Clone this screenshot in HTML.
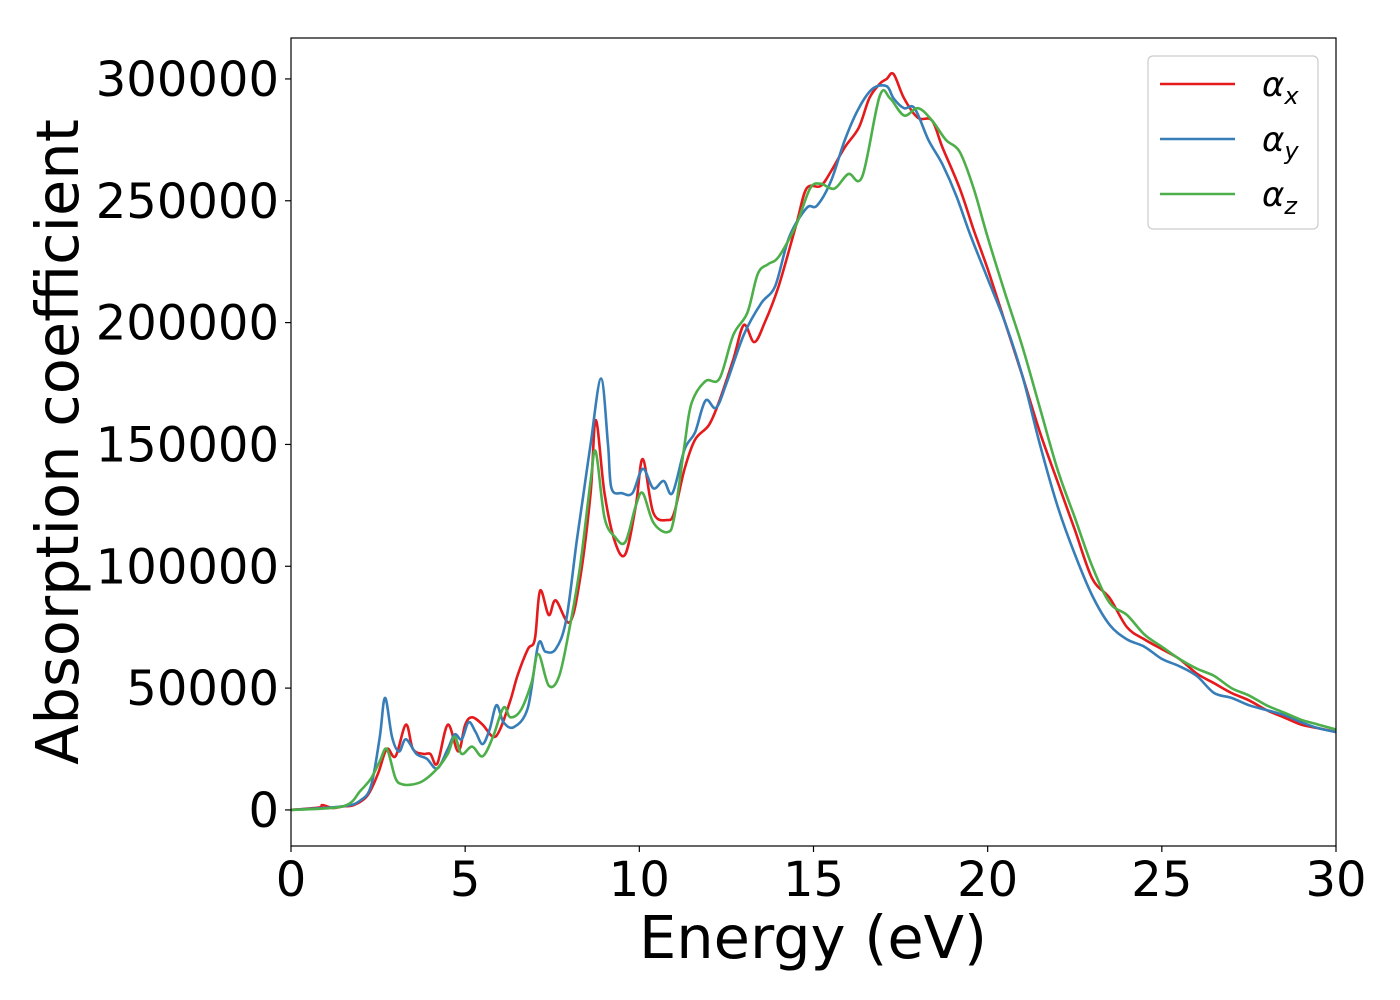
<!DOCTYPE html>
<html><head><meta charset="utf-8"><style>
html,body{margin:0;padding:0;background:#fff;}
svg{display:block;font-family:"DejaVu Sans","Liberation Sans",sans-serif;}
</style></head><body>
<svg id="chart" width="1400" height="1000" viewBox="0 0 1400 1000">
<g id="plot"></g>
<g id="axes"></g>
</svg>
<script>
const xTicks=[0,5,10,15,20,25,30];
const yTicks=[0,50000,100000,150000,200000,250000,300000];
const seriesNames=["x","y","z"];
const ex=[0,0.8,0.9,1.2,1.5,1.8,2.2,2.5,2.75,3.0,3.3,3.5,3.8,4.0,4.2,4.5,4.8,5.0,5.2,5.5,5.8,6.0,6.3,6.5,6.8,7.0,7.15,7.4,7.6,8.0,8.3,8.6,8.75,9.0,9.3,9.6,9.9,10.1,10.4,10.8,11.0,11.3,11.6,12.0,12.3,12.7,13.0,13.3,13.6,14.0,14.5,14.8,15.2,15.5,15.9,16.3,16.6,16.9,17.1,17.3,17.6,18.0,18.4,18.7,19.2,19.6,20.0,20.5,21.0,21.5,22.0,22.5,23.0,23.5,24.0,24.5,25.0,25.5,26.0,26.5,27.0,27.5,28.0,28.5,29.0,29.5,30];
const ax=[0,1000,2000,800,1500,2000,6000,15000,25000,22000,35000,25000,23000,23000,19000,35000,24000,35000,38000,35000,30000,33000,45000,55000,66000,70000,90000,80000,86000,77000,95000,130000,160000,130000,110000,105000,125000,144000,122000,119000,122000,140000,152000,158000,168000,185000,199000,192000,200000,215000,240000,255000,256000,262000,272000,280000,292000,298000,300000,302000,292000,284000,283000,272000,255000,238000,222000,200000,178000,155000,135000,115000,95000,87000,75000,70000,66000,62000,56000,52000,48000,45000,41000,38000,35000,33500,32000];
const ey=[0,1.5,2,2.3,2.55,2.7,2.9,3.1,3.3,3.6,3.9,4.2,4.5,4.7,4.9,5.1,5.3,5.5,5.7,5.9,6.1,6.4,6.8,7.1,7.3,7.6,7.9,8.2,8.4,8.6,8.9,9.1,9.2,9.5,9.8,10.1,10.4,10.7,10.95,11.3,11.6,11.9,12.2,12.5,13.0,13.5,13.9,14.3,14.8,15.1,15.5,15.9,16.3,16.7,17.1,17.3,17.6,17.9,18.3,18.7,19.1,19.5,20.0,20.5,21.0,21.5,22.0,22.5,23.0,23.5,24.0,24.5,25,25.5,26,26.5,27,27.5,28,28.5,29,29.5,30];
const ay=[0,1500,4000,10000,30000,46000,30000,24000,29000,23000,21000,17000,25000,31000,29000,36000,32000,27000,33000,43000,36000,34000,42000,68000,65000,66000,78000,110000,130000,150000,177000,150000,132000,130000,130000,140000,132000,135000,130000,148000,155000,168000,165000,175000,195000,208000,215000,235000,247000,248000,258000,275000,288000,296000,297000,292000,288000,288000,275000,265000,252000,236000,218000,200000,178000,150000,125000,105000,88000,76000,70000,67000,62000,59000,55000,48000,46000,43000,41000,39000,36000,33500,32000];
const ez=[0,1.5,2.0,2.3,2.55,2.75,3.0,3.2,3.5,3.8,4.2,4.5,4.7,4.9,5.2,5.5,5.8,6.1,6.3,6.6,6.9,7.1,7.4,7.7,8.0,8.3,8.6,8.75,9.0,9.3,9.6,9.9,10.1,10.4,10.8,11.0,11.3,11.5,11.9,12.3,12.7,13.1,13.4,13.7,14.0,14.5,14.9,15.2,15.6,16.0,16.4,16.9,17.2,17.6,18.0,18.4,18.8,19.2,19.6,20.0,20.5,21.0,21.5,22.0,22.5,23.0,23.5,24.0,24.5,25,25.5,26,26.5,27,27.5,28,28.5,29,29.5,30];
const az=[0,1500,8000,13000,20000,25000,13000,10500,10500,12000,17000,23000,30000,23000,26000,22000,30000,42000,38000,41000,52000,64000,51000,55000,75000,100000,135000,147000,120000,112000,110000,125000,130000,118000,114000,120000,150000,167000,176000,177000,195000,204000,220000,224000,227000,240000,255000,257000,255000,261000,260000,293000,292000,285000,288000,283000,275000,270000,255000,235000,212000,190000,165000,140000,120000,100000,85000,80000,72000,67000,62000,58000,55000,50000,47000,43000,40000,37000,35000,33000];

const L=291,R=1336,T=38,B=846;
const xMin=0,xMax=30,yMin=-14800,yMax=316800;
const sx=v=>L+(v-xMin)/(xMax-xMin)*(R-L);
const sy=v=>B-(v-yMin)/(yMax-yMin)*(B-T);
const NS="http://www.w3.org/2000/svg";
function mk(tag,attrs,parent){const e=document.createElementNS(NS,tag);for(const k in attrs)e.setAttribute(k,attrs[k]);parent.appendChild(e);return e;}
function smoothPath(xs,ys){
  const p=xs.map((x,i)=>[sx(x),sy(ys[i])]);
  let d="M"+p[0][0].toFixed(1)+","+p[0][1].toFixed(1);
  for(let i=0;i<p.length-1;i++){
    const p0=p[Math.max(0,i-1)],p1=p[i],p2=p[i+1],p3=p[Math.min(p.length-1,i+2)];
    const c1=[p1[0]+(p2[0]-p0[0])/6,p1[1]+(p2[1]-p0[1])/6];
    const c2=[p2[0]-(p3[0]-p1[0])/6,p2[1]-(p3[1]-p1[1])/6];
    d+="C"+c1[0].toFixed(1)+","+c1[1].toFixed(1)+" "+c2[0].toFixed(1)+","+c2[1].toFixed(1)+" "+p2[0].toFixed(1)+","+p2[1].toFixed(1);
  }
  return d;
}
const plot=document.getElementById('plot'),axes=document.getElementById('axes');
const cp=mk('clipPath',{id:'clip'},plot);mk('rect',{x:L,y:T,width:R-L,height:B-T},cp);
const colors=["#e41a1c","#377eb8","#4daf4a"];
const data=[[ex,ax],[ey,ay],[ez,az]];
data.forEach((s,i)=>{
  const el=mk('path',{d:smoothPath(s[0],s[1]),fill:'none',stroke:colors[i],'stroke-width':2.6,'clip-path':'url(#clip)'},plot);
  
  
});
const frame=mk('rect',{x:L,y:T,width:R-L,height:B-T,fill:'none',stroke:'#000','stroke-width':1.2},axes);


xTicks.forEach(v=>{
  const t=mk('line',{x1:sx(v),x2:sx(v),y1:B,y2:B+6,stroke:'#000','stroke-width':1.2},axes);
  
  
  const tx=mk('text',{x:sx(v),y:B+50,'text-anchor':'middle','font-size':48},axes);
  tx.textContent=v;
  
  
});
yTicks.forEach(v=>{
  const t=mk('line',{x1:L-6,x2:L,y1:sy(v),y2:sy(v),stroke:'#000','stroke-width':1.2},axes);
  
  
  const tx=mk('text',{x:L-12,y:sy(v)+17,'text-anchor':'end','font-size':48},axes);
  tx.textContent=v;
  
  
});
const xl=mk('text',{x:813,y:958,'text-anchor':'middle','font-size':59},axes);
xl.textContent="Energy (eV)";


const yl=mk('text',{x:0,y:0,'text-anchor':'middle','font-size':59,transform:'translate(78,442) rotate(-90)'},axes);
yl.textContent="Absorption coefficient";


const lg=mk('g',{},axes);


mk('rect',{x:1148,y:56,width:170,height:173,rx:5,fill:'#fff',stroke:'#ccc','stroke-width':1.2},lg);
seriesNames.forEach((n,i)=>{
  const y=84+i*55;
  const ln=mk('line',{x1:1160,x2:1235,y1:y,y2:y,stroke:colors[i],'stroke-width':2.6},lg);
  
  
  const t=mk('text',{x:1262,y:y+12,'font-size':34,'font-style':'italic'},lg);
  t.textContent="α";
  const sub=mk('tspan',{dy:8,'font-size':24},t);
  sub.textContent=n;
  
  
});
</script>
</body></html>
